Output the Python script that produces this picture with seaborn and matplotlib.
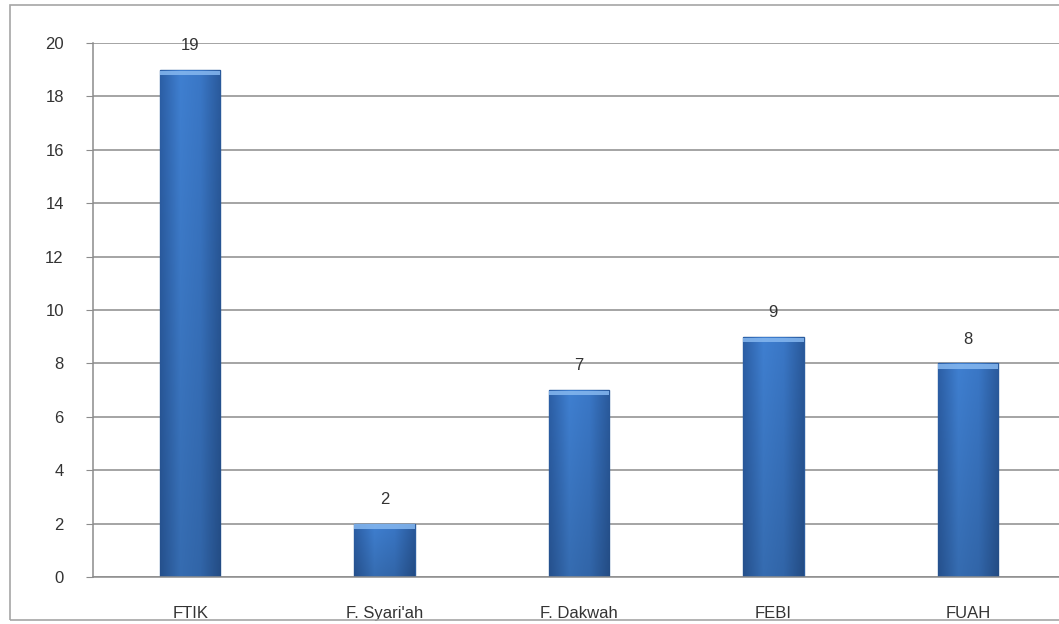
import matplotlib
matplotlib.use("Agg")
import matplotlib.pyplot as plt
import seaborn as sns
import pandas as pd
import numpy as np
from matplotlib.patches import Rectangle
from matplotlib.colors import LinearSegmentedColormap

# Data
categories = ["FTIK", "F. Syari'ah", "F. Dakwah", "FEBI", "FUAH"]
values = [19, 2, 7, 9, 8]
y_ticks = [0, 2, 4, 6, 8, 10, 12, 14, 16, 18, 20]

df = pd.DataFrame({"Fakultas": categories, "Jumlah": values})

sns.set_style("white")
plt.rcParams["font.family"] = ["Liberation Sans", "DejaVu Sans"]

fig = plt.figure(figsize=(10.59, 6.24), dpi=100)
# outer chart border
fig.patches.append(Rectangle((10 / 1059, 1 - 620 / 624), 1.1, 615 / 624,
                             transform=fig.transFigure, fill=False,
                             edgecolor="#a6a6a6", linewidth=1.2))

ax = fig.add_axes([93 / 1059, 1 - 577 / 624, 972 / 1059, 534 / 624])
sns.barplot(data=df, x="Fakultas", y="Jumlah", ax=ax, width=0.31,
            color="#3a74c4", edgecolor="#2b5c9e", linewidth=1.0, saturation=1)

ax.set_ylim(0, 20)
ax.set_yticks(y_ticks)
ax.yaxis.grid(True, color="#8c8c8c", linewidth=1.1)
ax.set_axisbelow(True)
for s in ["top", "right"]:
    ax.spines[s].set_visible(False)
for s in ["left", "bottom"]:
    ax.spines[s].set_color("#8c8c8c")
    ax.spines[s].set_linewidth(1.1)

ax.tick_params(axis="y", length=5, color="#8c8c8c", labelsize=12, pad=16,
               labelcolor="#333333", left=True)
ax.tick_params(axis="x", length=0, labelsize=12, pad=21, labelcolor="#333333")
ax.set_xlabel("")
ax.set_ylabel("")

# bevelled look: horizontal gradient, darker towards the bottom, light top edge
cmap = LinearSegmentedColormap.from_list("bar", ["#2c5fa6", "#3f7fd0", "#3a77c6", "#2a5a9c"])
grad = np.tile(np.linspace(0, 1, 64), (32, 1))
shade = np.linspace(1.0, 0.85, 32)[:, None]
for p in list(ax.patches):
    x0, w, h = p.get_x(), p.get_width(), p.get_height()
    rgb = cmap(grad)[..., :3] * shade[..., None][:, :, 0:1]
    im = ax.imshow(rgb, extent=(x0, x0 + w, 0, h), aspect="auto", origin="upper", zorder=p.get_zorder())
    im.set_clip_path(p)
    ax.add_patch(Rectangle((x0, h - 0.2), w, 0.17, facecolor="#86b8f0",
                           edgecolor="none", alpha=0.85, zorder=p.get_zorder() + 0.1))

ax.set_xlim(-0.5, len(categories) - 0.5)
ax.set_ylim(0, 20)

for i, v in enumerate(values):
    ax.annotate(str(v), (i, v), xytext=(0, 12), textcoords="offset points",
                ha="center", va="bottom", fontsize=12, color="#333333")

fig.savefig("out.png", dpi=100)
